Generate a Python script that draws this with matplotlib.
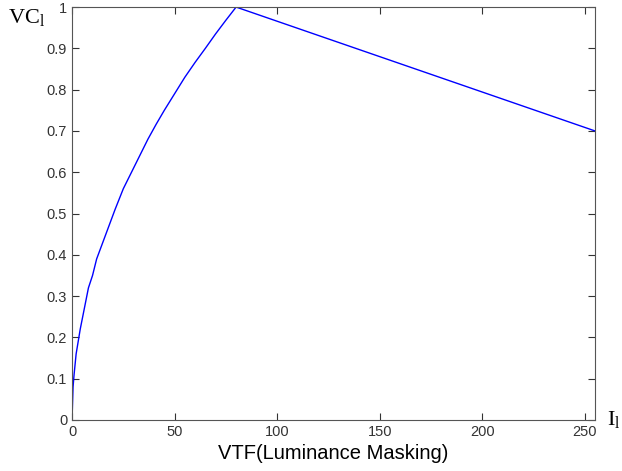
import matplotlib
matplotlib.use("Agg")
import matplotlib.pyplot as plt

# valores
lum = [0, 0.5, 1, 2, 3, 4, 6, 8, 10, 12, 15, 18, 21, 25, 29, 33, 37, 41, 45, 50, 55, 60, 65, 70, 75, 80, 255]
vc = [0, 0.08, 0.11, 0.16, 0.19, 0.22, 0.27, 0.32, 0.35, 0.39, 0.43, 0.47, 0.51, 0.56, 0.60, 0.64, 0.68, 0.716, 0.75, 0.79, 0.83, 0.866, 0.90, 0.935, 0.968, 1.0, 0.7]

xticks = [0, 50, 100, 150, 200, 250]
yticks = [0, 0.1, 0.2, 0.3, 0.4, 0.5, 0.6, 0.7, 0.8, 0.9, 1]
ytick_labels = ["0", "0.1", "0.2", "0.3", "0.4", "0.5", "0.6", "0.7", "0.8", "0.9", "1"]

plt.rcParams['font.family'] = ['Liberation Sans', 'DejaVu Sans']

fig = plt.figure(figsize=(6.22, 4.71), dpi=100)
ax = fig.add_axes([0.1158, 0.1083, 0.8408, 0.8767])

ax.plot(lum, vc, color="blue", linewidth=1)

ax.set_xlim(0, 255)
ax.set_ylim(0, 1)
ax.set_xticks(xticks)
ax.set_yticks(yticks)
ax.set_yticklabels(ytick_labels)
ax.tick_params(direction="in", top=True, right=True, labelsize=10.5, length=5, colors="#333333")
for s in ax.spines.values():
    s.set_color("#555555")

ax.set_xlabel("VTF(Luminance Masking)", fontsize=14.5, labelpad=4)

fig.text(0.013, 0.962, r"VC$_\mathregular{l}$", fontsize=16, family="Liberation Serif", va="center")
fig.text(0.976, 0.108, r"I$_\mathregular{l}$", fontsize=16, family="Liberation Serif", va="center")

plt.savefig("out.png")
